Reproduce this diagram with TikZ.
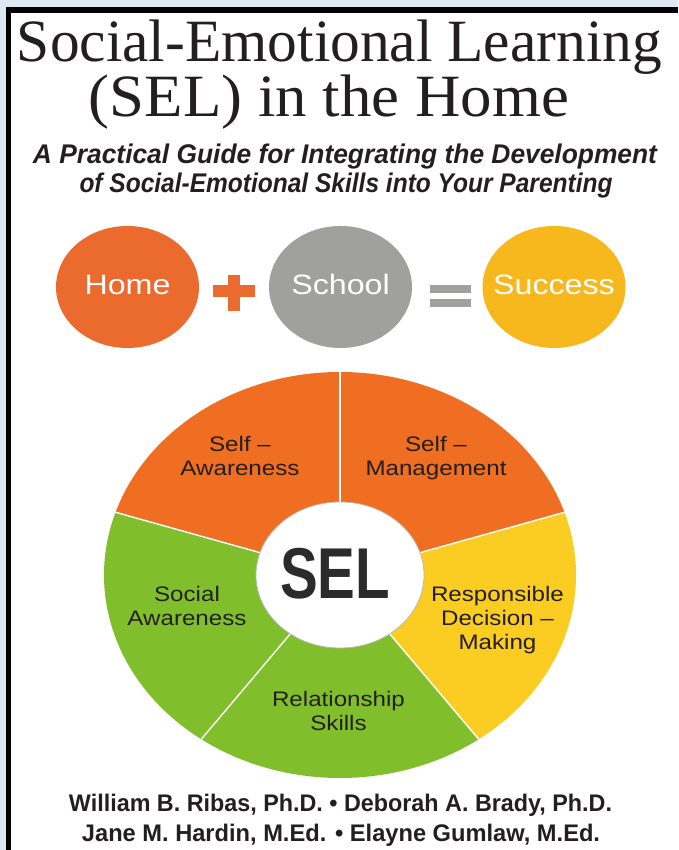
\documentclass[tikz,border=0pt]{standalone}
\usepackage{fontspec}
\usepackage{graphicx}
\setmainfont{Liberation Serif}
\newfontfamily\labfont[FakeStretch=1.15]{Liberation Sans}
\newfontfamily\hsans{Liberation Sans}
\usetikzlibrary{calc,shapes.geometric}
\definecolor{pagebg}{HTML}{DDE8F3}
\definecolor{homec}{HTML}{EB6A2D}
\definecolor{schoolc}{HTML}{A0A09F}
\definecolor{succc}{HTML}{F7B81D}
\definecolor{wheelor}{HTML}{F06E22}
\definecolor{wheelgr}{HTML}{80BF2B}
\definecolor{wheelye}{HTML}{FBCC22}
\definecolor{inkc}{HTML}{231F20}
\definecolor{selc}{HTML}{2B2B2B}
\newcommand{\mylines}[1]{\begin{tabular}[t]{@{}c@{}}#1\end{tabular}}
\tikzset{
  bubble/.style={ellipse, minimum width=143pt, minimum height=122pt, inner sep=0pt},
  bubbletext/.style={anchor=base, text=white, inner sep=0pt},
  segtext/.style={anchor=base, text=inkc, inner sep=0pt, font=\labfont\fontsize{21}{24}\selectfont},
  titletext/.style={anchor=base, text=inkc, inner sep=0pt},
}
\begin{document}
\begin{tikzpicture}[x=1pt,y=1pt]
\useasboundingbox (0,0) rectangle (678,850);
\fill[pagebg] (0,0) rectangle (678,850);
\fill[black] (6,0) rectangle (678,843);
\fill[white] (10.5,0) rectangle (678,836.7);

% title
\node[titletext] (t1) at (339.5,788) {\resizebox{645pt}{\height}{\fontsize{60}{60}\selectfont Social-Emotional Learning}};
\node[titletext] (t2) at (329,733) {\resizebox{480pt}{\height}{\fontsize{60}{60}\selectfont (SEL) in the Home}};

% subtitle
\node[titletext] (s1) at (345,686) {\resizebox{624pt}{\height}{\hsans\bfseries\itshape\fontsize{27}{27}\selectfont A Practical Guide for Integrating the Development}};
\node[titletext] (s2) at (346,657) {\resizebox{533pt}{\height}{\hsans\bfseries\itshape\fontsize{27}{27}\selectfont of Social-Emotional Skills into Your Parenting}};

% Home + School = Success
\node[bubble, fill=homec] (home) at (127.5,563) {};
\node[bubble, fill=schoolc] (school) at (340.5,563) {};
\node[bubble, fill=succc] (success) at (554,563) {};
\node[bubbletext] (homet) at (home.center |- 0,555) {\labfont\fontsize{28}{28}\selectfont Home};
\node[bubbletext] (schoolt) at (school.center |- 0,555) {\labfont\fontsize{28}{28}\selectfont School};
\node[bubbletext] (successt) at (success.center |- 0,555) {\labfont\fontsize{28}{28}\selectfont Success};
\fill[homec] (213,553) rectangle (255,565);
\fill[homec] (228,539) rectangle (240,575);
\fill[schoolc] (430,557) rectangle (471,565);
\fill[schoolc] (430,543) rectangle (471,551);

% wheel
\coordinate (W) at (340,275);
\fill[wheelor] (W) -- ($(W)+(18:236pt and 203pt)$) arc[start angle=18, end angle=90, x radius=236pt, y radius=203pt] -- cycle;
\fill[wheelor] (W) -- ($(W)+(90:236pt and 203pt)$) arc[start angle=90, end angle=162, x radius=236pt, y radius=203pt] -- cycle;
\fill[wheelgr] (W) -- ($(W)+(162:236pt and 203pt)$) arc[start angle=162, end angle=234, x radius=236pt, y radius=203pt] -- cycle;
\fill[wheelgr] (W) -- ($(W)+(234:236pt and 203pt)$) arc[start angle=234, end angle=306, x radius=236pt, y radius=203pt] -- cycle;
\fill[wheelye] (W) -- ($(W)+(306:236pt and 203pt)$) arc[start angle=306, end angle=378, x radius=236pt, y radius=203pt] -- cycle;
\foreach \a in {18,90,162,234,306}
  \draw[white, line width=1.4pt] (W) -- ($(W)+(\a:236pt and 203pt)$);
\node[ellipse, fill=white, draw=gray!55, line width=0.8pt, minimum width=168pt, minimum height=146pt, inner sep=0pt] (sel) at (W) {};
\node[anchor=base, inner sep=0pt, text=selc] (selt) at (335,251) {\resizebox{110pt}{\height}{\hsans\bfseries\fontsize{72}{72}\selectfont SEL}};

\node[segtext] (sa) at (240,398) {\mylines{Self –\\Awareness}};
\node[segtext] (sm) at (436,398) {\mylines{Self –\\Management}};
\node[segtext] (soc) at (187,248) {\mylines{Social\\Awareness}};
\node[segtext] (rdm) at (497.5,248) {\mylines{Responsible\\Decision –\\Making}};
\node[segtext] (rel) at (338.5,143) {\mylines{Relationship\\Skills}};

% authors
\node[titletext] (a1) at (340.5,38) {\resizebox{543pt}{\height}{\hsans\bfseries\fontsize{24}{24}\selectfont William B. Ribas, Ph.D. • Deborah A. Brady, Ph.D.}};
\node[titletext] (a2) at (341,8.5) {\resizebox{518pt}{\height}{\hsans\bfseries\fontsize{24}{24}\selectfont Jane M. Hardin, M.Ed. • Elayne Gumlaw, M.Ed.}};
\end{tikzpicture}
\end{document}
